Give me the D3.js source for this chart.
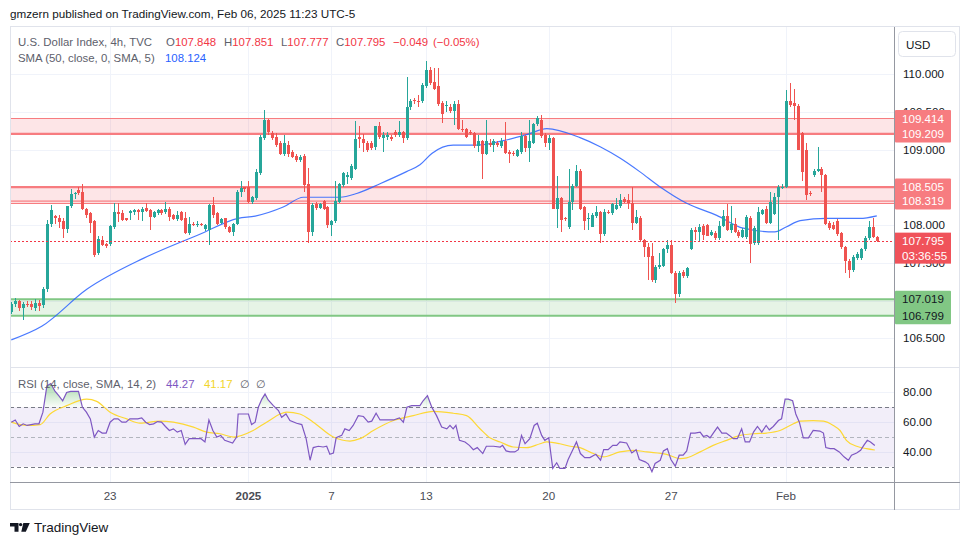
<!DOCTYPE html>
<html><head><meta charset="utf-8">
<script src="https://cdn.jsdelivr.net/npm/d3@7"></script>
<style>body{margin:0;background:#fff;} svg{display:block;font-family:"Liberation Sans",Arial,sans-serif;}</style>
</head><body><svg id="c" width="970" height="545"></svg>
<script>
// ---------- DATA ----------
const open=[
106.85,106.95,106.99,106.90,106.96,106.95,106.90,106.97,106.94,107.15,
108.02,108.12,108.10,108.05,107.95,108.25,108.41,108.47,108.44,108.21,
108.16,108.06,107.63,107.81,107.75,107.75,107.97,108.17,108.16,108.09,
108.16,108.18,108.20,108.18,108.23,108.20,108.11,108.16,108.20,108.17,
108.22,108.14,108.08,108.17,108.09,107.90,108.02,108.00,108.02,107.95,
107.94,108.27,108.16,108.03,108.09,107.97,107.91,108.02,108.44,108.50,
108.51,108.31,108.36,108.69,109.16,109.39,109.22,109.17,109.09,108.95,
109.06,108.97,108.92,108.86,108.92,108.54,107.91,108.28,108.23,108.32,
108.24,108.00,108.05,108.31,108.53,108.64,108.63,108.75,109.17,109.14,
109.09,109.09,109.03,109.31,109.16,109.17,109.17,109.23,109.20,109.23,
109.16,109.56,109.66,109.65,109.64,109.85,110.06,109.90,109.84,109.62,
109.58,109.57,109.52,109.61,109.28,109.27,109.24,109.22,109.05,109.11,
108.95,109.09,109.06,109.09,109.05,109.11,108.97,108.96,108.92,108.97,
109.18,109.02,109.09,109.34,109.40,109.20,109.09,109.16,108.22,108.36,
108.09,107.97,108.31,108.52,108.72,108.24,108.09,107.98,108.12,108.17,
107.88,108.18,108.16,108.22,108.25,108.35,108.33,108.29,108.03,108.09,
107.80,107.71,107.59,107.27,107.45,107.46,107.68,107.74,107.37,107.09,
107.38,107.32,107.69,107.94,107.91,107.99,108.00,107.87,107.90,107.83,
107.99,108.12,107.94,108.01,107.91,107.84,107.84,108.10,107.76,107.76,
108.15,108.21,108.03,108.15,108.38,108.50,108.51,109.64,109.62,109.58,
109.22,109.00,108.43,108.66,108.72,108.75,108.66,108.03,108.00,108.06,
107.89,107.71,107.53,107.40,107.56,107.56,107.68,107.83,107.97,107.848];
const high=[
106.98,107.04,107.01,106.98,107.00,106.99,107.02,107.01,107.18,108.07,
108.27,108.13,108.13,108.09,108.25,108.48,108.44,108.50,108.54,108.23,
108.18,108.07,107.85,107.85,107.76,108.00,108.29,108.29,108.20,108.10,
108.20,108.21,108.22,108.24,108.29,108.21,108.19,108.22,108.21,108.31,
108.24,108.15,108.19,108.19,108.18,108.11,108.04,108.05,108.03,108.02,
108.28,108.37,108.18,108.10,108.10,107.99,108.03,108.47,108.59,108.51,
108.58,108.39,108.74,109.20,109.53,109.41,109.25,109.22,109.12,109.20,
109.11,108.99,108.94,108.93,108.95,108.76,108.29,108.31,108.30,108.34,
108.26,108.07,108.59,108.56,108.71,108.71,108.81,109.38,109.31,109.21,
109.11,109.12,109.32,109.37,109.24,109.24,109.20,109.26,109.38,109.25,
109.97,109.67,109.68,109.73,109.88,110.18,110.10,110.08,110.08,109.64,
109.64,109.60,109.64,109.66,109.39,109.29,109.26,109.24,109.20,109.13,
109.39,109.14,109.14,109.11,109.15,109.37,108.99,108.98,109.01,109.24,
109.20,109.39,109.36,109.45,109.46,109.22,109.19,109.17,108.65,108.38,
108.11,108.74,108.54,108.80,108.75,108.26,108.16,108.16,108.25,108.19,
108.21,108.20,108.30,108.36,108.41,108.38,108.41,108.50,108.20,108.12,
107.82,107.76,107.76,107.47,107.63,107.70,107.80,107.80,107.39,107.39,
107.40,107.45,107.96,107.98,108.01,108.02,108.02,107.93,107.92,108.06,
108.20,108.28,108.25,108.09,107.93,107.96,108.13,108.12,107.99,108.24,
108.22,108.25,108.44,108.43,108.53,108.55,109.79,109.88,109.80,109.60,
109.24,109.09,108.45,108.74,109.04,108.77,108.68,108.05,108.04,108.08,
107.91,107.73,107.55,107.60,107.64,107.70,107.85,108.06,108.09,107.851];
const low=[
106.82,106.92,106.86,106.74,106.92,106.88,106.86,106.86,106.90,107.12,
107.98,108.02,107.96,107.83,107.89,108.23,108.35,108.40,108.20,108.10,
107.90,107.58,107.60,107.72,107.70,107.72,107.95,108.04,108.05,108.05,
108.07,108.14,108.07,108.05,108.17,107.93,108.09,108.13,108.14,108.15,
108.06,108.07,108.06,108.06,107.88,107.87,107.99,107.98,107.99,107.92,
107.74,108.10,108.00,108.01,107.95,107.89,107.85,108.00,108.38,108.44,
108.29,108.28,108.33,108.66,109.13,109.20,109.13,109.03,108.93,108.92,
108.91,108.89,108.84,108.84,108.44,107.76,107.85,108.20,108.21,108.20,
107.96,107.85,108.03,108.29,108.51,108.55,108.60,108.73,109.02,108.97,
108.97,108.99,109.00,109.14,108.97,109.13,109.12,109.17,109.17,109.09,
109.13,109.53,109.61,109.57,109.62,109.82,109.86,109.79,109.58,109.35,
109.50,109.49,109.33,109.26,109.24,109.15,109.20,109.02,108.97,108.61,
108.93,109.04,108.97,109.03,109.02,108.94,108.83,108.92,108.90,108.95,
108.97,108.84,109.07,109.32,109.15,109.04,108.99,108.21,107.96,107.91,
108.06,107.95,108.20,108.50,108.20,107.93,107.93,107.97,108.10,107.76,
107.86,108.15,108.14,108.20,108.23,108.29,108.22,107.93,108.01,107.78,
107.58,107.27,107.25,107.23,107.42,107.44,107.63,107.35,106.97,107.05,
107.30,107.30,107.67,107.80,107.79,107.80,107.85,107.85,107.81,107.81,
107.97,107.92,107.89,107.89,107.83,107.83,107.82,107.50,107.74,107.74,
108.13,108.01,108.01,108.13,107.80,108.48,108.49,109.57,109.40,108.99,
108.58,108.33,108.39,108.64,108.70,108.44,108.00,107.93,107.94,107.86,
107.69,107.37,107.30,107.38,107.54,107.54,107.66,107.81,107.83,107.777];
const close=[
106.95,106.99,106.90,106.96,106.94,106.92,106.97,106.93,107.15,108.02,
108.20,108.09,108.04,107.95,108.25,108.41,108.43,108.43,108.21,108.14,
108.03,107.61,107.82,107.74,107.72,107.99,108.17,108.15,108.07,108.07,
108.19,108.20,108.17,108.22,108.19,108.11,108.18,108.20,108.16,108.22,
108.11,108.08,108.14,108.07,107.90,108.01,108.00,108.01,108.00,108.00,
108.27,108.13,108.02,108.08,107.97,107.91,108.02,108.44,108.49,108.48,
108.31,108.37,108.71,109.17,109.39,109.24,109.16,109.06,108.95,109.09,
108.94,108.91,108.86,108.91,108.53,107.91,108.27,108.23,108.28,108.22,
108.00,108.05,108.32,108.54,108.69,108.67,108.78,109.14,109.14,109.09,
109.00,109.02,109.31,109.17,109.19,109.20,109.14,109.20,109.23,109.16,
109.57,109.65,109.64,109.63,109.86,110.06,109.89,109.81,109.60,109.48,
109.59,109.52,109.61,109.28,109.26,109.17,109.22,109.05,109.11,108.95,
109.11,109.06,109.11,109.06,109.11,108.96,108.95,108.94,108.99,109.18,
109.02,109.11,109.34,109.42,109.18,109.09,109.16,108.22,108.36,108.07,
108.08,108.31,108.52,108.72,108.22,108.05,108.10,108.13,108.17,107.88,
108.17,108.17,108.28,108.27,108.33,108.31,108.30,108.03,108.11,107.80,
107.71,107.58,107.27,107.45,107.47,107.68,107.74,107.37,107.09,107.37,
107.32,107.43,107.94,107.91,107.98,107.87,107.86,107.91,107.83,107.99,
108.12,107.94,108.01,107.91,107.85,107.93,108.11,107.75,107.96,108.18,
108.20,108.03,108.31,108.38,108.51,108.51,109.64,109.59,109.58,109.00,
108.70,108.40,108.41,108.72,108.74,108.66,108.02,107.96,107.95,107.88,
107.71,107.52,107.40,107.58,107.62,107.68,107.83,107.97,107.84,107.795];

// SMA(50) readings: bar position -> value
const smaAt =[0,7.7,19.1,33.4,47.7,57.4,61.7,68.8,73.9,83.2,87.4,93.3,100,103.4,106.4,111.8,117.8,124.5,130.4,135.5,143.9,149,154,159,164.1,170.9,178.5,185.2,193.2,196.2,199.6,206.3,214.7,219];
const smaVal=[106.48,106.66,107.15,107.56,107.88,108.09,108.12,108.24,108.37,108.37,108.42,108.55,108.71,108.80,108.95,109.06,109.06,109.12,109.20,109.28,109.16,109.04,108.89,108.71,108.51,108.29,108.13,107.96,107.91,107.98,108.06,108.09,108.09,108.124];

// RSI(14) readings
const rsiAt=[0,1,2,3,4,5,6,7,8,9,10,11,12,13,14,15,17,18,19,20,21,22,23,24,25,26,27,28,29,30,32,33,34,35,36,37,38,39,40,41,42,43,44,45,46,47,48,49,50,51,52,53,54,56,57,
57.4,58.7,60,60.8,61.7,62.5,63.4,64.2,65,66.3,67.6,68.4,69.5,70.5,72.2,73.5,74.6,75.6,76.4,77.7,78.9,79.8,80.6,81.5,82.2,83.6,84.4,85.5,86.5,87.8,89.1,90.3,91.2,92.3,93.3,95,96.7,98.2,99.2,100.1,101.3,103.4,104.2,105.3,106.4,107.6,108.9,110.2,111,111.8,112.5,113.4,114.8,115.9,116.9,117.9,119.3,120.2,122,
123.7,124.3,125.2,126.2,127.4,128.3,129.1,130,131.2,132.3,133.1,134.2,135,136,137,138,138.8,140.1,140.9,142.2,143,144,145.1,146.4,147.9,149.1,149.9,151,152.2,153.2,154,155.7,157,158.1,158.9,160.4,161.2,162.1,162.9,164.2,165,166,166.9,168,169,170,170.9,171.9,173,174.3,175.1,176,176.8,177.8,178.7,179.8,180.9,181.7,182.7,183.7,184.8,185.7,186.8,187.8,188.8,189.9,191,191.8,192.8,194.1,194.9,195.8,196.6,197.7,198.5,199.4,200.4,201.7,202.9,204.6,205.5,206.1,207.2,208.2,209.5,210.7,211.8,212.6,213.9,214.9,215.7,216.6,217.4,218.5];
const rsiVal=[59.9,61.4,57.0,58.8,57.7,58.3,58.8,58.8,66.6,84.3,85.9,81.0,77.7,74.3,79.9,80.6,80.6,69.9,66.6,62.1,49.9,54.3,52.6,52.6,59.9,62.1,62.1,59.9,59.9,62.1,62.1,62.8,59.9,58.3,58.8,60.3,59.9,57.0,54.3,55.4,53.2,54.3,45.0,48.8,48.8,48.8,48.8,46.6,61.4,54.3,49.9,51.0,47.7,45.9,49.9,
65.4,65.4,65.4,58.3,59.9,69.9,75.4,78.8,74.8,71.0,67.7,63.2,65.4,61.0,59.2,58.3,48.8,34.3,42.8,43.7,43.2,43.7,38.3,39.2,49.4,51.0,55.4,54.3,57.7,64.3,63.7,59.9,60.6,65.9,61.4,61.4,61.4,62.8,59.9,69.9,71.0,71.0,74.3,77.7,69.9,64.3,56.6,55.4,57.7,55.4,57.7,47.7,46.6,44.3,41.4,42.8,38.8,43.7,43.7,
43.2,44.3,40.6,39.9,39.9,41.4,51.0,45.4,48.8,57.7,59.2,51.0,47.7,49.4,28.8,32.6,28.8,28.8,34.8,42.1,46.6,38.8,36.1,36.1,38.3,34.3,41.4,41.4,44.3,44.3,46.6,45.9,39.2,41.4,34.8,33.2,31.7,26.6,32.1,34.3,40.6,42.1,34.8,30.3,37.7,37.7,40.6,52.6,52.6,53.2,50.3,51.0,49.4,53.2,56.6,52.6,52.6,51.0,48.8,48.8,55.4,46.6,46.6,53.2,57.0,53.2,57.7,54.8,57.0,61.0,62.1,75.4,75.4,74.3,65.4,59.9,49.4,49.4,54.3,53.9,52.6,42.8,42.1,42.1,39.9,36.6,34.3,37.7,39.2,41.0,44.3,47.7,46.6,44.27];

// RSI-based SMA(14)
const rsiMaAt =[0,3.9,7.3,9.8,14,19.1,21.6,25,29.2,32.6,37.6,41,46.1,49.4,52.8,56.2,61.2,64.6,69.7,73,76.4,81.5,85.7,88.2,91.6,96.7,101.7,106.8,111.8,115.2,118.6,121.1,123.7,127,130.4,133.8,135.5,138.8,141.4,143.9,147.3,149.8,154,157.4,160.8,165.8,169.2,170.9,174.3,177.6,181,184.4,187.8,191.1,194.5,197.9,199.6,202.9,205.5,208,209.7,211.3,213.9,216.4,218.5];
const rsiMaVal=[59.9,57.7,58.3,65.4,71.0,75.4,73.9,66.6,62.1,59.2,60.6,59.9,56.6,53.2,52.1,49.9,54.3,59.9,66.6,65.4,59.9,49.9,47.2,48.8,54.3,61.0,64.3,67.2,65.9,64.3,55.5,49.4,46.6,43.2,42.8,45.4,46.6,45.4,43.7,42.8,38.8,36.6,39.9,41.0,39.9,38.3,35.4,35.9,39.9,44.3,47.7,51.0,52.1,52.6,54.3,58.8,60.6,61.0,60.6,57.7,54.3,47.7,43.7,42.1,41.17];

// Price zones drawn on the chart (top, bottom)
const zoneTop=[109.414,108.505,107.019];
const zoneBottom=[109.209,108.319,106.799];
const extraLevels=[108.29];
const lastPrice=107.795, countdown="03:36:55";
const changeText="\u22120.049", changePct="(\u22120.05%)";

const dateTicks=["23","2025","7","13","20","27","Feb"];
const dateTickAt=[25,60,81,105,136,167,196];
const priceTicks=[106.5,107,107.5,108,108.5,109,109.5,110];
const rsiTicks=[40,60,80];
const rsiLevels=[30,50,70];

// ---------- LAYOUT ----------
const L=10,R=894,FR=960,MT=27,MB=367,RT=368,RB=482,FB=510;
const UP="#26a69a",DN="#ef5350",GRID="#f0f3fa",AX="#9598a1";
const FONT="'Liberation Sans',Arial,sans-serif";
const svg=d3.select("#c");
svg.append("rect").attr("width",970).attr("height",545).attr("fill","#fff");

const x=d3.scaleLinear().domain([-0.33,223.35]).range([L,R]);
const y=d3.scaleLinear().domain([106.12,110.627]).range([MB,MT]);
const yr=d3.scaleLinear().domain([19.67,96.33]).range([RB,RT]);

const defs=svg.append("defs");
defs.append("clipPath").attr("id","cm").append("rect").attr("x",L).attr("y",MT).attr("width",R-L).attr("height",MB-MT);
defs.append("clipPath").attr("id","cr").append("rect").attr("x",L).attr("y",RT).attr("width",R-L).attr("height",RB-RT);
defs.append("clipPath").attr("id","cOB").append("rect").attr("x",L).attr("y",RT).attr("width",R-L).attr("height",yr(70)-RT);
defs.append("clipPath").attr("id","cOS").append("rect").attr("x",L).attr("y",yr(30)).attr("width",R-L).attr("height",RB-yr(30));
const gOB=defs.append("linearGradient").attr("id","gOB").attr("gradientUnits","userSpaceOnUse").attr("x1",0).attr("x2",0).attr("y1",yr(88)).attr("y2",yr(70));
gOB.append("stop").attr("offset",0).attr("stop-color","rgb(76,175,80)").attr("stop-opacity",0.55);
gOB.append("stop").attr("offset",1).attr("stop-color","rgb(76,175,80)").attr("stop-opacity",0.03);
const gOS=defs.append("linearGradient").attr("id","gOS").attr("gradientUnits","userSpaceOnUse").attr("x1",0).attr("x2",0).attr("y1",yr(30)).attr("y2",yr(15));
gOS.append("stop").attr("offset",0).attr("stop-color","rgb(255,82,82)").attr("stop-opacity",0.03);
gOS.append("stop").attr("offset",1).attr("stop-color","rgb(255,82,82)").attr("stop-opacity",0.55);

// grids
const grid=svg.append("g").attr("shape-rendering","crispEdges");
grid.selectAll("line.h").data(priceTicks).join("line")
  .attr("x1",L).attr("x2",R).attr("y1",d=>Math.round(y(d))+0.5).attr("y2",d=>Math.round(y(d))+0.5).attr("stroke",GRID);
grid.selectAll("line.r").data(rsiTicks).join("line")
  .attr("x1",L).attr("x2",R).attr("y1",d=>Math.round(yr(d))+0.5).attr("y2",d=>Math.round(yr(d))+0.5).attr("stroke",GRID);
grid.selectAll("line.v").data(dateTickAt).join("line")
  .attr("x1",d=>Math.round(x(d))+0.5).attr("x2",d=>Math.round(x(d))+0.5).attr("y1",MT).attr("y2",RB).attr("stroke",GRID);

// zones
const main=svg.append("g").attr("clip-path","url(#cm)");
const zoneFill=["rgba(242,54,69,0.13)","rgba(242,54,69,0.13)","rgba(76,175,80,0.14)"];
const zoneLine=["#f77c80","#f77c80","#81c784"];
const zoneTopW=[1.2,2.2,2],zoneBotW=[2.2,1.2,2];
zoneTop.forEach((t,k)=>{
  main.append("rect").attr("x",L).attr("width",R-L).attr("y",y(t)).attr("height",y(zoneBottom[k])-y(t)).attr("fill",zoneFill[k]);
  main.append("line").attr("x1",L).attr("x2",R).attr("y1",y(t)).attr("y2",y(t)).attr("stroke",zoneLine[k]).attr("stroke-width",zoneTopW[k]);
  main.append("line").attr("x1",L).attr("x2",R).attr("y1",y(zoneBottom[k])).attr("y2",y(zoneBottom[k])).attr("stroke",zoneLine[k]).attr("stroke-width",zoneBotW[k]);
});
extraLevels.forEach(v=>{
  main.append("line").attr("x1",L).attr("x2",R).attr("y1",y(v)).attr("y2",y(v)).attr("stroke","#f77c80").attr("stroke-width",1.2);
});

// SMA
main.append("path").datum(smaAt.map((a,k)=>[a,smaVal[k]]))
  .attr("d",d3.line().x(d=>x(d[0])).y(d=>y(d[1])).curve(d3.curveMonotoneX))
  .attr("fill","none").attr("stroke","#2962ff").attr("stroke-width",1.2).attr("opacity",0.85);

// candles
const idx=d3.range(close.length);
const col=i=>close[i]>=open[i]?UP:DN;
main.append("g").attr("shape-rendering","crispEdges").selectAll("line").data(idx).join("line")
  .attr("x1",i=>Math.round(x(i))+0.5).attr("x2",i=>Math.round(x(i))+0.5)
  .attr("y1",i=>y(high[i])).attr("y2",i=>y(low[i])).attr("stroke",col);
main.append("g").attr("shape-rendering","crispEdges").selectAll("rect").data(idx).join("rect")
  .attr("x",i=>Math.round(x(i))-1).attr("width",3)
  .attr("y",i=>y(Math.max(open[i],close[i])))
  .attr("height",i=>Math.max(1,Math.abs(y(open[i])-y(close[i])))).attr("fill",col);

// last price dotted line
main.append("line").attr("x1",L).attr("x2",R).attr("y1",Math.round(y(lastPrice))+0.5).attr("y2",Math.round(y(lastPrice))+0.5)
  .attr("stroke","#f23645").attr("stroke-width",1).attr("stroke-dasharray","2,2").attr("shape-rendering","crispEdges");

// ---------- RSI pane ----------
const rp=svg.append("g").attr("clip-path","url(#cr)");
rp.append("rect").attr("x",L).attr("width",R-L).attr("y",yr(70)).attr("height",yr(30)-yr(70)).attr("fill","rgba(126,87,194,0.1)");
rp.selectAll("line.lv").data(rsiLevels).join("line")
  .attr("x1",L).attr("x2",R).attr("y1",d=>Math.round(yr(d))+0.5).attr("y2",d=>Math.round(yr(d))+0.5)
  .attr("stroke",d=>d===50?"#b2b5be":"#787b86").attr("stroke-dasharray","4,3");
const rsiPts=rsiAt.map((a,k)=>[a,rsiVal[k]]);
rp.append("path").datum(rsiPts).attr("clip-path","url(#cOB)")
  .attr("d",d3.area().x(d=>x(d[0])).y0(yr(70)).y1(d=>yr(d[1]))).attr("fill","url(#gOB)");
rp.append("path").datum(rsiPts).attr("clip-path","url(#cOS)")
  .attr("d",d3.area().x(d=>x(d[0])).y0(yr(30)).y1(d=>yr(d[1]))).attr("fill","url(#gOS)");
rp.append("path").datum(rsiMaAt.map((a,k)=>[a,rsiMaVal[k]]))
  .attr("d",d3.line().x(d=>x(d[0])).y(d=>yr(d[1])).curve(d3.curveMonotoneX))
  .attr("fill","none").attr("stroke","#fdd835").attr("stroke-width",1.2);
rp.append("path").datum(rsiPts)
  .attr("d",d3.line().x(d=>x(d[0])).y(d=>yr(d[1])))
  .attr("fill","none").attr("stroke","#7e57c2").attr("stroke-width",1.2);

// ---------- frame & axes ----------
const fr=svg.append("g").attr("shape-rendering","crispEdges");
fr.append("rect").attr("x",L+0.5).attr("y",MT-0.5).attr("width",FR-L-1).attr("height",FB-MT).attr("fill","none").attr("stroke","#e0e3eb");
fr.append("line").attr("x1",L).attr("x2",FR).attr("y1",MB+0.5).attr("y2",MB+0.5).attr("stroke","#e0e3eb");
fr.append("line").attr("x1",R+0.5).attr("x2",R+0.5).attr("y1",MT).attr("y2",FB).attr("stroke",AX);
fr.append("line").attr("x1",L).attr("x2",FR).attr("y1",RB+0.5).attr("y2",RB+0.5).attr("stroke",AX);

const txt=(g,xx,yy,s,o={})=>g.append("text").attr("x",xx).attr("y",yy).text(s)
  .attr("font-size",o.size||11.6).attr("fill",o.fill||"#131722").attr("font-family",FONT)
  .attr("text-anchor",o.anchor||"start").attr("font-weight",o.weight||"normal");

const ax=svg.append("g");
priceTicks.forEach(p=>txt(ax,903,y(p)+4,d3.format(".3f")(p)));
rsiTicks.forEach(r=>txt(ax,903,yr(r)+4,d3.format(".2f")(r)));
dateTicks.forEach((s,k)=>txt(ax,x(dateTickAt[k]),500,s,{anchor:"middle",weight:s==="2025"?"bold":"normal",fill:"#4a4c55"}));

// axis label boxes
const boxes=svg.append("g");
const boxW=56;
function pairBox(a,b,fill,tc){
  const y0=y(a)-8.5,y1=y(b)+8.5;
  boxes.append("rect").attr("x",R+1).attr("y",y0).attr("width",boxW).attr("height",y1-y0).attr("fill",fill).attr("rx",1);
  txt(boxes,902,y(a)+4,d3.format(".3f")(a),{fill:tc});
  txt(boxes,902,y(b)+4,d3.format(".3f")(b),{fill:tc});
}
pairBox(zoneTop[0],zoneBottom[0],"#f77c80","#fff");
pairBox(zoneTop[1],zoneBottom[1],"#f77c80","#fff");
pairBox(zoneTop[2],zoneBottom[2],"#81c784","#131722");
const ly=y(lastPrice);
boxes.append("rect").attr("x",R+1).attr("y",ly-8).attr("width",boxW).attr("height",31).attr("fill","#f0525a");
txt(boxes,902,ly+4,d3.format(".3f")(lastPrice),{fill:"#fff"});
txt(boxes,902,ly+19,countdown,{fill:"#fff"});

// USD button
svg.append("rect").attr("x",898.5).attr("y",31.5).attr("width",57).attr("height",25).attr("rx",4).attr("fill","#fff").attr("stroke","#e0e3eb");
txt(svg,906,48.5,"USD",{size:11.6});

// ---------- legends ----------
const lg=svg.append("g");
const GR="#5d606b",RED="#f23645";
txt(lg,10,18,"gmzern published on TradingView.com, Feb 06, 2025 11:23 UTC-5",{size:11.7,fill:"#131722"});
txt(lg,18,46,"U.S. Dollar Index, 4h, TVC",{size:11.4,fill:GR});
const last=close.length-1;
const ohlc=[["O",open[last],166],["H",high[last],224],["L",low[last],281],["C",close[last],336]];
ohlc.forEach(([k,v,xx])=>{
  const t=txt(lg,xx,46,"",{size:11.4,fill:GR});
  t.append("tspan").text(k);
  t.append("tspan").attr("fill",RED).text(d3.format(".3f")(v));
});
txt(lg,393,46,changeText,{size:11.4,fill:RED});
txt(lg,433,46,changePct,{size:11.4,fill:RED});
txt(lg,18,62,"SMA (50, close, 0, SMA, 5)",{size:11.4,fill:GR});
txt(lg,165,62,d3.format(".3f")(smaVal[smaVal.length-1]),{size:11.4,fill:"#2962ff"});
txt(lg,18,388,"RSI (14, close, SMA, 14, 2)",{size:11.4,fill:GR});
txt(lg,166,388,d3.format(".2f")(rsiVal[rsiVal.length-1]),{size:11.4,fill:"#7e57c2"});
txt(lg,204,388,d3.format(".2f")(rsiMaVal[rsiMaVal.length-1]),{size:11.4,fill:"#f2d52a"});
txt(lg,240,388,"\u2205",{size:11.4,fill:GR});
txt(lg,256,388,"\u2205",{size:11.4,fill:GR});

// ---------- footer ----------
const ft=svg.append("g").attr("fill","#131722");
ft.append("path").attr("d","M10 523 H18.5 V531.7 H14.5 V526.6 H10 Z");
ft.append("circle").attr("cx",20.6).attr("cy",524.6).attr("r",1.7);
ft.append("path").attr("d","M23.3 523 H29.8 L25.8 531.7 H21.3 Z");
txt(svg,34,532,"TradingView",{size:13.5,fill:"#131722"});
</script></body></html>
